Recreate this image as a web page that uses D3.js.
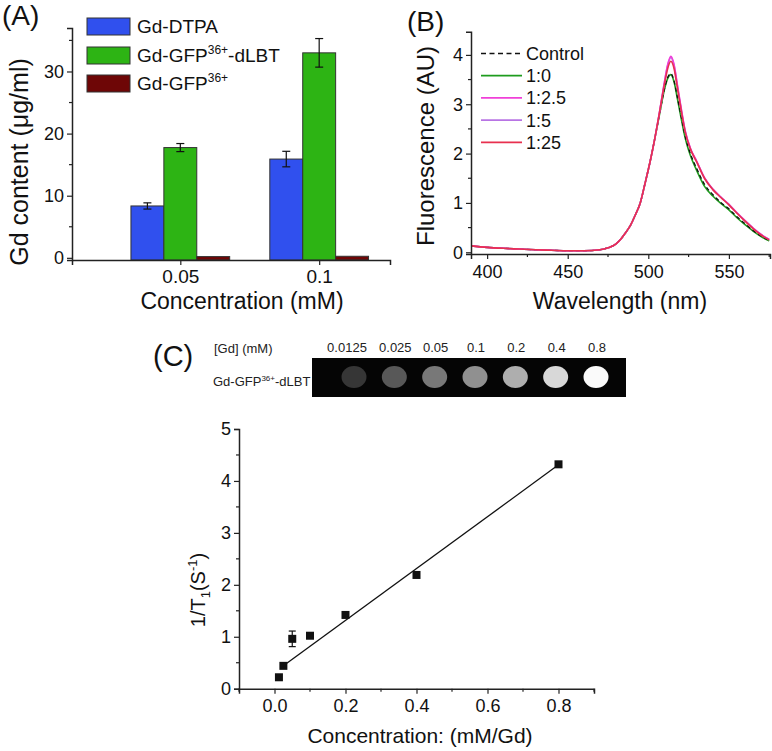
<!DOCTYPE html>
<html><head><meta charset="utf-8">
<script src="https://cdn.jsdelivr.net/npm/d3@7"></script>
<style>
body{margin:0;background:#fff;}
svg{display:block;font-family:"Liberation Sans",Arial,sans-serif;}
</style></head>
<body>
<svg id="chart" width="772" height="751"></svg>
<script>
// ---------- Panel A data ----------
const aCategories = ["0.05", "0.1"];
const aSeriesNames = ["Gd-DTPA", "Gd-GFP36+-dLBT", "Gd-GFP36+"];
const aGdDTPA = [8.35, 15.9];
const aGdDTPAErr = [0.5, 1.25];
const aGdGFPdLBT = [17.75, 33.0];
const aGdGFPdLBTErr = [0.65, 2.3];
const aGdGFP = [0.2, 0.25];
const aGdGFPErr = [0, 0];
const aColors = ["#3050ee", "#2db414", "#6e0606"];
const aYTicks = [0, 10, 20, 30];
const aYMinor = [5, 15, 25, 35];

// ---------- Panel B data ----------
const bWavelengths = [390,400,410,420,430,440,450,460,470,475,480,483,486,489,492,495,498,501,504,
  507,510,512,514,516,518,520,523,526,530,535,540,545,550,555,560,565,570,575];
const bControl = [0.13,0.10,0.08,0.065,0.05,0.04,0.03,0.03,0.05,0.09,0.17,0.27,0.40,0.55,0.76,1.00,1.40,1.82,2.30,
  2.80,3.31,3.54,3.62,3.47,3.15,2.82,2.34,2.01,1.70,1.37,1.17,1.01,0.88,0.72,0.58,0.44,0.33,0.24];
const b1_0 = [0.13,0.10,0.08,0.065,0.05,0.04,0.03,0.03,0.05,0.09,0.17,0.27,0.40,0.55,0.76,1.00,1.40,1.82,2.30,
  2.80,3.30,3.52,3.60,3.45,3.12,2.78,2.30,1.97,1.66,1.33,1.14,0.99,0.86,0.70,0.56,0.43,0.32,0.23];
const b1_2_5 = [0.13,0.10,0.08,0.065,0.05,0.04,0.03,0.03,0.05,0.09,0.17,0.27,0.40,0.55,0.76,1.00,1.40,1.82,2.30,
  2.85,3.45,3.80,3.97,3.80,3.40,3.00,2.45,2.12,1.85,1.50,1.28,1.12,0.97,0.80,0.64,0.49,0.36,0.26];
const b1_5 = [0.13,0.10,0.08,0.065,0.05,0.04,0.03,0.03,0.05,0.09,0.17,0.27,0.40,0.55,0.76,1.00,1.40,1.82,2.30,
  2.85,3.44,3.78,3.95,3.78,3.38,2.98,2.44,2.11,1.84,1.50,1.28,1.12,0.97,0.80,0.64,0.49,0.36,0.26];
const b1_25 = [0.13,0.10,0.08,0.065,0.05,0.04,0.03,0.03,0.05,0.09,0.17,0.27,0.40,0.55,0.76,1.00,1.40,1.82,2.30,
  2.84,3.40,3.72,3.87,3.72,3.34,2.95,2.42,2.10,1.83,1.49,1.27,1.11,0.96,0.79,0.63,0.48,0.35,0.25];
const bSeriesNames = ["Control", "1:0", "1:2.5", "1:5", "1:25"];
const bColors = ["#111111", "#1e9c1e", "#f040d8", "#b874e4", "#e8304f"];
const bXTicks = [400, 450, 500, 550];
const bXMinor = [425, 475, 525, 575];
const bYTicks = [0, 1, 2, 3, 4];
const bYMinor = [0.5, 1.5, 2.5, 3.5];

// ---------- Panel C data ----------
const cStripLabels = ["0.0125", "0.025", "0.05", "0.1", "0.2", "0.4", "0.8"];
const cStripGray = [0x36, 0x58, 0x78, 0x90, 0xae, 0xd8, 0xfa];
const cConc = [0.0125, 0.025, 0.05, 0.1, 0.2, 0.4, 0.8];
const cR1 = [0.22, 0.44, 0.96, 1.02, 1.42, 2.19, 4.32];
const cR1Err = [0, 0, 0.15, 0, 0, 0, 0];
const cFitX = [0.025, 0.8];
const cFitY = [0.44, 4.31];
const cXTicks = [0.0, 0.2, 0.4, 0.6, 0.8];
const cXMinor = [-0.1, 0.1, 0.3, 0.5, 0.7, 0.9];
const cYTicks = [0, 1, 2, 3, 4, 5];
const cYMinor = [0.5, 1.5, 2.5, 3.5, 4.5];

const svg = d3.select("#chart");
const AX = "#222";

function styleAxis(g, fs) {
  g.select(".domain").attr("stroke", AX).attr("stroke-width", 1.5);
  g.selectAll(".tick line").attr("stroke", AX).attr("stroke-width", 1.2);
  g.selectAll(".tick text").attr("fill", "#111").attr("font-size", fs)
    .attr("font-family", "'Liberation Sans',Arial,sans-serif");
}
function minorTicks(g, vals, scale, orient, len) {
  g.selectAll(null).data(vals).enter().append("line")
    .attr("stroke", AX).attr("stroke-width", 1.2)
    .attr("x1", d => orient === "x" ? scale(d) : 0)
    .attr("x2", d => orient === "x" ? scale(d) : -len)
    .attr("y1", d => orient === "x" ? 0 : scale(d))
    .attr("y2", d => orient === "x" ? len : scale(d));
}

// ================= Panel A =================
{
  const x = d3.scaleLinear().domain([0.22, 2.51]).range([72, 390]);
  const y = d3.scaleLinear().domain([-0.35, 37.0]).range([260, 28]);
  const bw = 0.237;
  const vals = [aGdDTPA, aGdGFPdLBT, aGdGFP];
  const errs = [aGdDTPAErr, aGdGFPdLBTErr, aGdGFPErr];
  const g = svg.append("g");
  const y0 = y.domain()[0];
  vals.forEach((arr, j) => {
    arr.forEach((v, i) => {
      const cx = x(i + 1 + (j - 1) * bw);
      const x0 = x(i + 1 + (j - 1) * bw - bw / 2), x1 = x(i + 1 + (j - 1) * bw + bw / 2);
      g.append("rect").attr("x", x0).attr("y", y(v)).attr("width", x1 - x0)
        .attr("height", y(y0) - y(v)).attr("fill", aColors[j])
        .attr("stroke", "#333").attr("stroke-width", 1);
      const e = errs[j][i];
      if (e > 0) {
        g.append("line").attr("x1", cx).attr("x2", cx).attr("y1", y(v - e)).attr("y2", y(v + e))
          .attr("stroke", "#111").attr("stroke-width", 1.2);
        [v - e, v + e].forEach(t => g.append("line").attr("x1", cx - 4).attr("x2", cx + 4)
          .attr("y1", y(t)).attr("y2", y(t)).attr("stroke", "#111").attr("stroke-width", 1.2));
      }
    });
  });
  const ya = g.append("g").attr("transform", `translate(72,0)`)
    .call(d3.axisLeft(y).tickValues(aYTicks).tickSize(5).tickPadding(3).tickFormat(d3.format("d")));
  styleAxis(ya, 18);
  minorTicks(ya, aYMinor, y, "y", 3);
  const xa = g.append("g").attr("transform", `translate(0,260)`)
    .call(d3.axisBottom(x).tickValues([1, 2]).tickSize(5).tickPadding(5).tickFormat((d, i) => aCategories[i]));
  styleAxis(xa, 19);
  g.append("text").attr("x", 242).attr("y", 309).attr("text-anchor", "middle")
    .attr("font-size", 23).attr("fill", "#111").text("Concentration (mM)");
  g.append("text").attr("transform", "translate(28,162) rotate(-90)").attr("text-anchor", "middle")
    .attr("font-size", 25).attr("fill", "#111").text("Gd content (μg/ml)");
  g.append("text").attr("x", 2).attr("y", 25).attr("font-size", 28).attr("fill", "#111").text("(A)");
  // legend
  const legY = [18, 47, 75];
  aSeriesNames.forEach((n, j) => {
    g.append("rect").attr("x", 87).attr("y", legY[j]).attr("width", 43).attr("height", 17)
      .attr("fill", aColors[j]).attr("stroke", "#333").attr("stroke-width", 1);
    const t = g.append("text").attr("x", 137).attr("y", legY[j] + 15).attr("font-size", 19).attr("fill", "#111");
    if (n.indexOf("36+") >= 0) {
      const parts = n.split("36+");
      t.append("tspan").text(parts[0]);
      t.append("tspan").attr("font-size", 12).attr("dy", -8).text("36+");
      if (parts[1]) t.append("tspan").attr("dy", 8).text(parts[1]);
    } else t.text(n);
  });
}

// ================= Panel B =================
{
  const x = d3.scaleLinear().domain([390, 575.5]).range([471, 770]);
  const y = d3.scaleLinear().domain([-0.035, 4.47]).range([254, 31.7]);
  const g = svg.append("g");
  const series = [b1_0, bControl, b1_5, b1_2_5, b1_25];
  const colIdx = [1, 0, 3, 2, 4];
  const line = d3.line().x((d, i) => x(bWavelengths[i])).y(d => y(d)).curve(d3.curveMonotoneX);
  const clipId = "clipB";
  svg.append("clipPath").attr("id", clipId).append("rect").attr("x", 471).attr("y", 25).attr("width", 300).attr("height", 230);
  series.forEach((s, k) => {
    g.append("path").datum(s).attr("d", line).attr("fill", "none")
      .attr("clip-path", `url(#${clipId})`)
      .attr("stroke", bColors[colIdx[k]]).attr("stroke-width", colIdx[k] === 0 ? 1.3 : 1.6)
      .attr("stroke-dasharray", colIdx[k] === 0 ? "4,3" : null);
  });
  const ya = g.append("g").attr("transform", "translate(471,0)")
    .call(d3.axisLeft(y).tickValues(bYTicks).tickSize(5).tickPadding(3).tickFormat(d3.format("d")));
  styleAxis(ya, 18);
  minorTicks(ya, bYMinor, y, "y", 3);
  const xa = g.append("g").attr("transform", "translate(0,254)")
    .call(d3.axisBottom(x).tickValues(bXTicks).tickSize(5).tickPadding(6).tickFormat(d3.format("d")));
  styleAxis(xa, 18);
  minorTicks(xa, bXMinor, x, "x", 3);
  g.append("text").attr("x", 620).attr("y", 309).attr("text-anchor", "middle")
    .attr("font-size", 23).attr("fill", "#111").text("Wavelength (nm)");
  g.append("text").attr("transform", "translate(434,146) rotate(-90)").attr("text-anchor", "middle")
    .attr("font-size", 24).attr("fill", "#111").text("Fluorescence (AU)");
  g.append("text").attr("x", 407).attr("y", 31).attr("font-size", 28).attr("fill", "#111").text("(B)");
  bSeriesNames.forEach((n, j) => {
    const ly = 53.5 + j * 22.2;
    g.append("line").attr("x1", 481).attr("x2", 522).attr("y1", ly).attr("y2", ly)
      .attr("stroke", bColors[j]).attr("stroke-width", j === 0 ? 1.4 : 1.8)
      .attr("stroke-dasharray", j === 0 ? "5,3.5" : null);
    g.append("text").attr("x", 526).attr("y", ly + 6.5).attr("font-size", 18).attr("fill", "#111").text(n);
  });
}

// ================= Panel C =================
{
  const g = svg.append("g");
  g.append("text").attr("x", 153).attr("y", 366).attr("font-size", 29).attr("fill", "#111").text("(C)");
  // gel strip
  const sx = d3.scalePoint().domain(cStripLabels).range([354, 596]);
  g.append("rect").attr("x", 312).attr("y", 358).attr("width", 314).attr("height", 39).attr("fill", "#050505");
  g.selectAll(".spot").data(cStripLabels).enter().append("ellipse")
    .attr("cx", d => sx(d)).attr("cy", 377).attr("rx", 12.5).attr("ry", 11)
    .attr("fill", (d, i) => d3.rgb(cStripGray[i], cStripGray[i], cStripGray[i]));
  g.selectAll(".slab").data(cStripLabels).enter().append("text")
    .attr("x", (d, i) => sx(d) + (i === 0 ? -7 : 1)).attr("y", 352).attr("text-anchor", "middle")
    .attr("font-size", 13).attr("fill", "#222").text(d => d);
  g.append("text").attr("x", 214).attr("y", 353).attr("font-size", 13).attr("fill", "#222").text("[Gd] (mM)");
  const tl = g.append("text").attr("x", 213).attr("y", 386).attr("font-size", 13).attr("fill", "#222");
  tl.append("tspan").text("Gd-GFP");
  tl.append("tspan").attr("font-size", 8).attr("dy", -5).text("36+");
  tl.append("tspan").attr("dy", 5).text("-dLBT");

  const x = d3.scaleLinear().domain([-0.1, 0.9]).range([239, 594]);
  const y = d3.scaleLinear().domain([0, 5]).range([688.7, 429]);
  g.append("line").attr("x1", x(cFitX[0])).attr("x2", x(cFitX[1]))
    .attr("y1", y(cFitY[0])).attr("y2", y(cFitY[1])).attr("stroke", "#111").attr("stroke-width", 1.3);
  cConc.forEach((c, i) => {
    const e = cR1Err[i];
    if (e > 0) {
      g.append("line").attr("x1", x(c)).attr("x2", x(c)).attr("y1", y(cR1[i] - e)).attr("y2", y(cR1[i] + e))
        .attr("stroke", "#111").attr("stroke-width", 1.2);
      [cR1[i] - e, cR1[i] + e].forEach(t => g.append("line").attr("x1", x(c) - 3.5).attr("x2", x(c) + 3.5)
        .attr("y1", y(t)).attr("y2", y(t)).attr("stroke", "#111").attr("stroke-width", 1.2));
    }
  });
  g.selectAll(".pt").data(cConc).enter().append("rect")
    .attr("x", d => x(d) - 4).attr("y", (d, i) => y(cR1[i]) - 4)
    .attr("width", 8).attr("height", 8).attr("fill", "#111");
  const ya = g.append("g").attr("transform", "translate(239,0)")
    .call(d3.axisLeft(y).tickValues(cYTicks).tickSize(5).tickPadding(3).tickFormat(d3.format("d")));
  styleAxis(ya, 18);
  minorTicks(ya, cYMinor, y, "y", 3);
  const xa = g.append("g").attr("transform", "translate(0,688.7)")
    .call(d3.axisBottom(x).tickValues(cXTicks).tickSize(5).tickPadding(6).tickFormat(d3.format(".1f")));
  styleAxis(xa, 18);
  minorTicks(xa, cXMinor, x, "x", 3);
  g.append("text").attr("x", 420).attr("y", 743).attr("text-anchor", "middle")
    .attr("font-size", 21).attr("fill", "#111").text("Concentration: (mM/Gd)");
  const yl = g.append("text").attr("transform", "translate(205,590) rotate(-90)").attr("text-anchor", "middle")
    .attr("font-size", 20).attr("fill", "#111");
  yl.append("tspan").text("1/T");
  yl.append("tspan").attr("font-size", 13).attr("dy", 5).text("1");
  yl.append("tspan").attr("dy", -5).text("(S");
  yl.append("tspan").attr("font-size", 13).attr("dy", -8).text("-1");
  yl.append("tspan").attr("dy", 8).text(")");
}
</script>
</body></html>
